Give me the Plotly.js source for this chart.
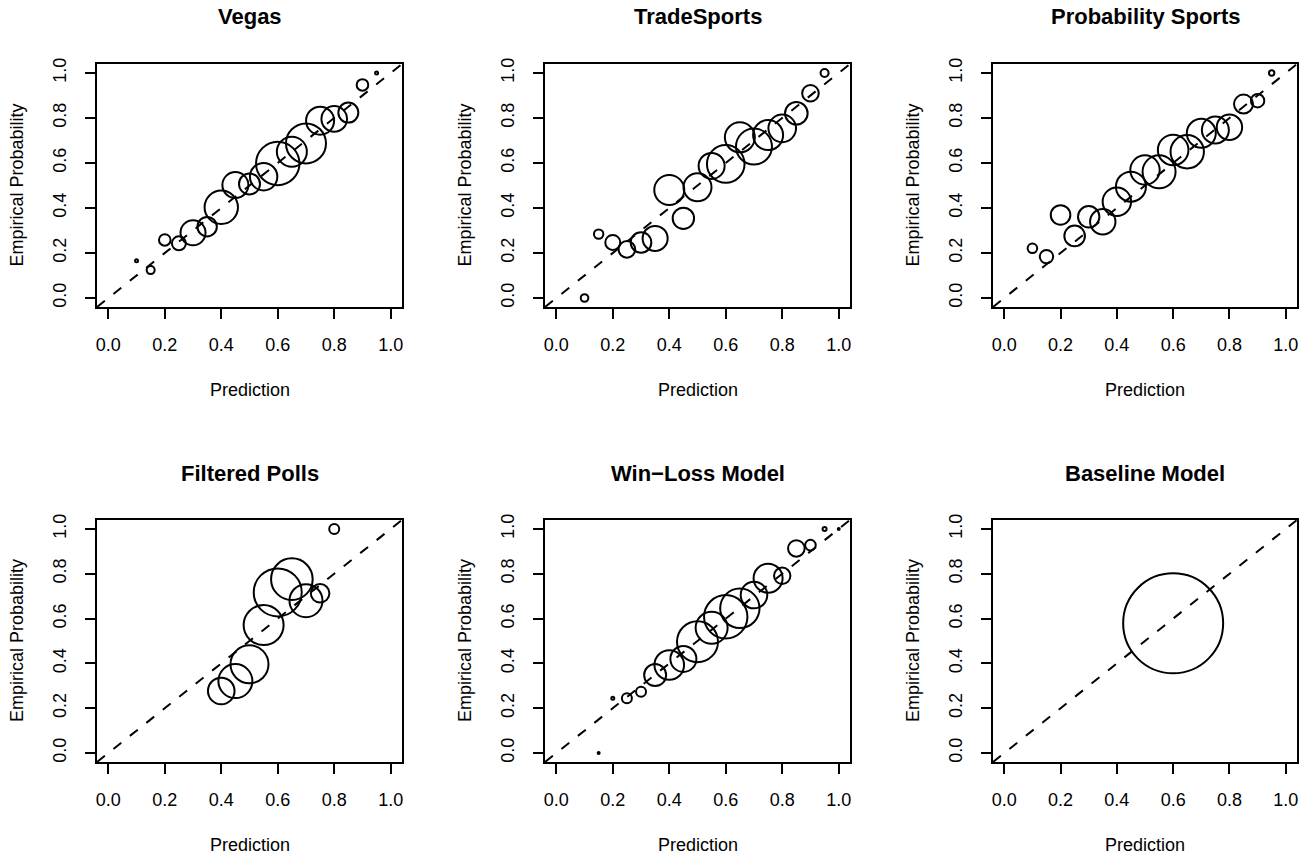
<!DOCTYPE html>
<html>
<head>
<meta charset="utf-8">
<script src="https://cdn.plot.ly/plotly-3.0.1.min.js"></script>
<style>html,body{margin:0;padding:0;background:#fff;}#chart{width:1310px;height:856px;}</style>
</head>
<body>
<div id="chart"></div>
<script>
// ---- data ----
const panelTitles = ["Vegas", "TradeSports", "Probability Sports", "Filtered Polls", "Win\u2212Loss Model", "Baseline Model"];
const xLabel = "Prediction";
const yLabel = "Empirical Probability";
const tickValues = [0, 0.2, 0.4, 0.6, 0.8, 1.0];
const tickLabels = ["0.0", "0.2", "0.4", "0.6", "0.8", "1.0"];

const vegasPred = [0.10,0.15,0.20,0.25,0.30,0.35,0.40,0.45,0.50,0.55,0.60,0.65,0.70,0.75,0.80,0.85,0.90,0.95];
const vegasEmp  = [0.166,0.124,0.258,0.243,0.290,0.317,0.403,0.502,0.507,0.539,0.598,0.650,0.687,0.788,0.796,0.824,0.947,1.000];
const vegasBubble = [1.5,4,5.8,7,12.5,9.7,16.7,13,10.5,13.7,21.7,15,20,14,12.8,10,5.8,1.5];

const tradePred = [0.10,0.15,0.20,0.25,0.30,0.35,0.40,0.45,0.50,0.55,0.60,0.65,0.70,0.75,0.80,0.85,0.90,0.95];
const tradeEmp  = [0.000,0.284,0.247,0.216,0.247,0.265,0.480,0.354,0.492,0.587,0.596,0.714,0.673,0.724,0.754,0.821,0.910,1.000];
const tradeBubble = [3.8,4.7,7.5,8.3,10.3,12.5,15,10.7,14,13,18.8,15,18,15,13.8,11.3,8.3,4];

const probPred = [0.10,0.15,0.20,0.25,0.30,0.35,0.40,0.45,0.50,0.55,0.60,0.65,0.70,0.75,0.80,0.85,0.90,0.95];
const probEmp  = [0.221,0.184,0.369,0.276,0.361,0.339,0.428,0.495,0.569,0.561,0.658,0.650,0.732,0.747,0.759,0.862,0.877,1.000];
const probBubble = [4.8,6.7,9.8,10.3,10.7,12.7,14.2,15,14.7,16.5,15.3,16.7,14.5,13.5,12.7,9.5,6.7,2.7];

const pollPred = [0.40,0.45,0.50,0.55,0.60,0.65,0.70,0.75,0.80];
const pollEmp  = [0.277,0.321,0.396,0.571,0.717,0.776,0.680,0.713,1.000];
const pollBubble = [13.3,17,19,20,24,20.8,16.5,9.3,5];

const wlPred = [0.15,0.20,0.25,0.30,0.35,0.40,0.45,0.50,0.55,0.60,0.65,0.70,0.75,0.80,0.85,0.90,0.95,1.00];
const wlEmp  = [0.000,0.244,0.244,0.274,0.348,0.393,0.420,0.497,0.559,0.608,0.646,0.705,0.780,0.791,0.913,0.928,1.000,1.000];
const wlBubble = [1,1.5,5,5,11,14.8,13,20.5,16,21.7,19.7,13.3,14.5,8.2,8.3,5.3,2,1];

const basePred = [0.60];
const baseEmp  = [0.579];
const baseBubble = [50];

// ---- layout geometry ----
const W = 1310, H = 856;
const colBoxes = [[97, 402], [545, 850], [993, 1297]];   // px
const rowBoxes = [[64, 307], [520, 762]];                 // px (top, bottom)
const titleY = [17, 473], xTitleY = [390, 845], yTitleX = [17, 465, 913];

const series = [
  [vegasPred, vegasEmp, vegasBubble],
  [tradePred, tradeEmp, tradeBubble],
  [probPred, probEmp, probBubble],
  [pollPred, pollEmp, pollBubble],
  [wlPred, wlEmp, wlBubble],
  [basePred, baseEmp, baseBubble]
];

const FONT = "Liberation Sans, Arial, Helvetica, sans-serif";
const traces = [];
const layout = {
  width: W, height: H,
  margin: {l: 0, r: 0, t: 0, b: 0},
  paper_bgcolor: "#fff", plot_bgcolor: "#fff",
  showlegend: false,
  font: {family: FONT, color: "#000"},
  annotations: []
};

series.forEach((s, i) => {
  const row = Math.floor(i / 3), col = i % 3;
  const sfx = i === 0 ? "" : String(i + 1);
  const xa = "x" + sfx, ya = "y" + sfx;
  const axCommon = {
    range: [-0.04, 1.04],
    tickvals: tickValues, ticktext: tickLabels,
    showgrid: false, zeroline: false,
    showline: true, mirror: true, linecolor: "#000", linewidth: 2,
    ticks: "outside", ticklen: 10, tickwidth: 2, tickcolor: "#000",
    tickfont: {size: 18, family: FONT, color: "#000"},
    fixedrange: true
  };
  const [x0, x1] = colBoxes[col];
  const [yt, yb] = rowBoxes[row];
  layout["xaxis" + sfx] = Object.assign({}, axCommon, {
    domain: [x0 / W, x1 / W], anchor: ya, ticklabelstandoff: 10
  });
  layout["yaxis" + sfx] = Object.assign({}, axCommon, {
    domain: [1 - yb / H, 1 - yt / H], anchor: xa, tickangle: -90, ticklabelstandoff: 12
  });

  // reference diagonal
  traces.push({
    x: [-0.04, 1.04], y: [-0.04, 1.04], xaxis: xa, yaxis: ya,
    mode: "lines", line: {color: "#000", width: 2, dash: "10px,11px"},
    hoverinfo: "skip"
  });
  // bubbles
  traces.push({
    x: s[0], y: s[1], xaxis: xa, yaxis: ya,
    mode: "markers", cliponaxis: false,
    marker: {symbol: "circle-open", color: "#000", opacity: 1, size: s[2].map(r => 2 * r),
             line: {color: "#000", width: 2}}
  });

  const cx = (x0 + x1) / 2 / W;
  layout.annotations.push({
    text: "<b>" + panelTitles[i] + "</b>", xref: "paper", yref: "paper",
    x: cx, y: 1 - titleY[row] / H, xanchor: "center", yanchor: "middle",
    showarrow: false, font: {size: 22, family: FONT, color: "#000"}
  });
  layout.annotations.push({
    text: xLabel, xref: "paper", yref: "paper",
    x: cx, y: 1 - xTitleY[row] / H, xanchor: "center", yanchor: "middle",
    showarrow: false, font: {size: 18, family: FONT, color: "#000"}
  });
  layout.annotations.push({
    text: yLabel, xref: "paper", yref: "paper", textangle: -90,
    x: yTitleX[col] / W, y: 1 - (yt + yb) / 2 / H, xanchor: "center", yanchor: "middle",
    showarrow: false, font: {size: 18, family: FONT, color: "#000"}
  });
});

Plotly.newPlot("chart", traces, layout, {displayModeBar: false, staticPlot: true});
</script>
</body>
</html>
